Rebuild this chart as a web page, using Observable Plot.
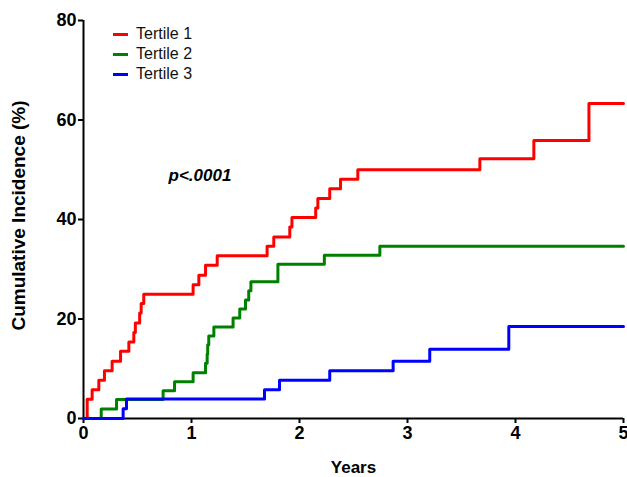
<!DOCTYPE html>
<html><head><meta charset="utf-8">
<script src="https://cdn.jsdelivr.net/npm/d3@7"></script>
<script src="https://cdn.jsdelivr.net/npm/@observablehq/plot@0.6"></script>
<style>
body{margin:0;background:#fff;}
#wrap{position:relative;width:627px;height:477px;font-family:"Liberation Sans",Arial,sans-serif;}
#legend{position:absolute;left:113px;top:24px;}
.item{display:flex;align-items:center;height:20px;font-size:16px;color:#111;line-height:20px}
.sw{width:15px;height:3px;margin-right:8px}
svg [aria-label="x-axis tick label"] text, svg [aria-label="y-axis tick label"] text{font-weight:bold}
</style></head><body><div id="wrap"><div id="legend"></div></div>
<script>
const seriesNames = ["Tertile 1", "Tertile 2", "Tertile 3"];
const seriesColors = ["#ff0000", "#008000", "#0000ff"];
const xTicks = [0, 1, 2, 3, 4, 5];
const yTicks = [0, 20, 40, 60, 80];

const tertile1Years = [0, 0.034, 0.08, 0.142, 0.194, 0.265, 0.343, 0.42, 0.466, 0.48, 0.52, 0.534, 0.558, 1.015, 1.068, 1.13, 1.238, 1.70, 1.762, 1.91, 1.93, 2.15, 2.17, 2.28, 2.38, 2.54, 3.67, 4.17, 4.68, 5];
const tertile1Pct   = [0, 3.85, 5.77, 7.69, 9.62, 11.5, 13.5, 15.4, 17.3, 19.2, 21.2, 23.1, 25.0, 26.9, 28.8, 30.8, 32.7, 34.6, 36.5, 38.5, 40.4, 42.3, 44.2, 46.2, 48.1, 50.0, 52.2, 55.9, 63.3, 63.3];

const tertile2Years = [0, 0.164, 0.306, 0.737, 0.843, 1.015, 1.13, 1.145, 1.15, 1.16, 1.207, 1.385, 1.447, 1.5, 1.53, 1.55, 1.80, 2.23, 2.744, 5];
const tertile2Pct   = [0, 1.9, 3.8, 5.6, 7.4, 9.2, 11.1, 12.9, 14.8, 16.6, 18.4, 20.2, 22.0, 23.8, 25.7, 27.5, 31.0, 32.8, 34.6, 34.6];

const tertile3Years = [0, 0.367, 0.398, 1.676, 1.815, 2.28, 2.867, 3.206, 3.938, 5];
const tertile3Pct   = [0, 1.95, 3.9, 5.8, 7.7, 9.6, 11.5, 13.9, 18.5, 18.5];

const pLabel = "p<.0001";
const xLabel = "Years";
const yLabel = "Cumulative Incidence (%)";

const seriesYears = [tertile1Years, tertile2Years, tertile3Years];
const seriesPct = [tertile1Pct, tertile2Pct, tertile3Pct];
const rows = [];
seriesNames.forEach((name, k) => seriesYears[k].forEach((t, i) => rows.push({series: name, year: t, pct: seriesPct[k][i]})));

const font = "Liberation Sans, Arial, Helvetica, sans-serif";
const chart = Plot.plot({
  width: 627, height: 477,
  marginLeft: 83, marginRight: 4, marginTop: 20, marginBottom: 59,
  style: {fontFamily: font, background: "#fff", color: "#000", overflow: "visible"},
  x: {domain: [0, 5]},
  y: {domain: [0, 80]},
  color: {domain: seriesNames, range: seriesColors},
  marks: [
    Plot.axisX({ticks: xTicks, tickSize: 5, tickPadding: 3, strokeWidth: 2, fontSize: 18, fontWeight: "bold", label: null, tickFormat: d => String(d)}),
    Plot.axisY({ticks: yTicks, tickSize: 5, tickPadding: 2, strokeWidth: 2, fontSize: 18, fontWeight: "bold", label: null, tickFormat: d => String(d)}),
    Plot.ruleX([0], {strokeWidth: 2, stroke: "#000"}),
    Plot.ruleY([0], {strokeWidth: 2, stroke: "#000"}),
    Plot.line(rows, {x: "year", y: "pct", z: "series", stroke: "series", curve: "step-after", strokeWidth: 3}),
    Plot.text([pLabel], {frameAnchor: "top-left", dx: 85, dy: 155, text: d => d, textAnchor: "start", lineAnchor: "middle", fontSize: 17, fontWeight: "bold", fontStyle: "italic", fill: "#000"}),
    Plot.text([xLabel], {frameAnchor: "bottom", dy: 49, text: d => d, textAnchor: "middle", lineAnchor: "middle", fontSize: 17, fontWeight: "bold", fill: "#000"}),
    Plot.text([yLabel], {frameAnchor: "left", dx: -65, dy: -4, rotate: -90, text: d => d, textAnchor: "middle", lineAnchor: "middle", fontSize: 19, fontWeight: "bold", fill: "#000"})
  ]
});
const wrap = document.getElementById("wrap");
wrap.insertBefore(chart, wrap.firstChild);

const legend = document.getElementById("legend");
seriesNames.forEach((name, k) => {
  const item = document.createElement("div");
  item.className = "item";
  const sw = document.createElement("span");
  sw.className = "sw";
  sw.style.background = seriesColors[k];
  const label = document.createElement("span");
  label.textContent = name;
  item.appendChild(sw);
  item.appendChild(label);
  legend.appendChild(item);
});
</script>
</body></html>
